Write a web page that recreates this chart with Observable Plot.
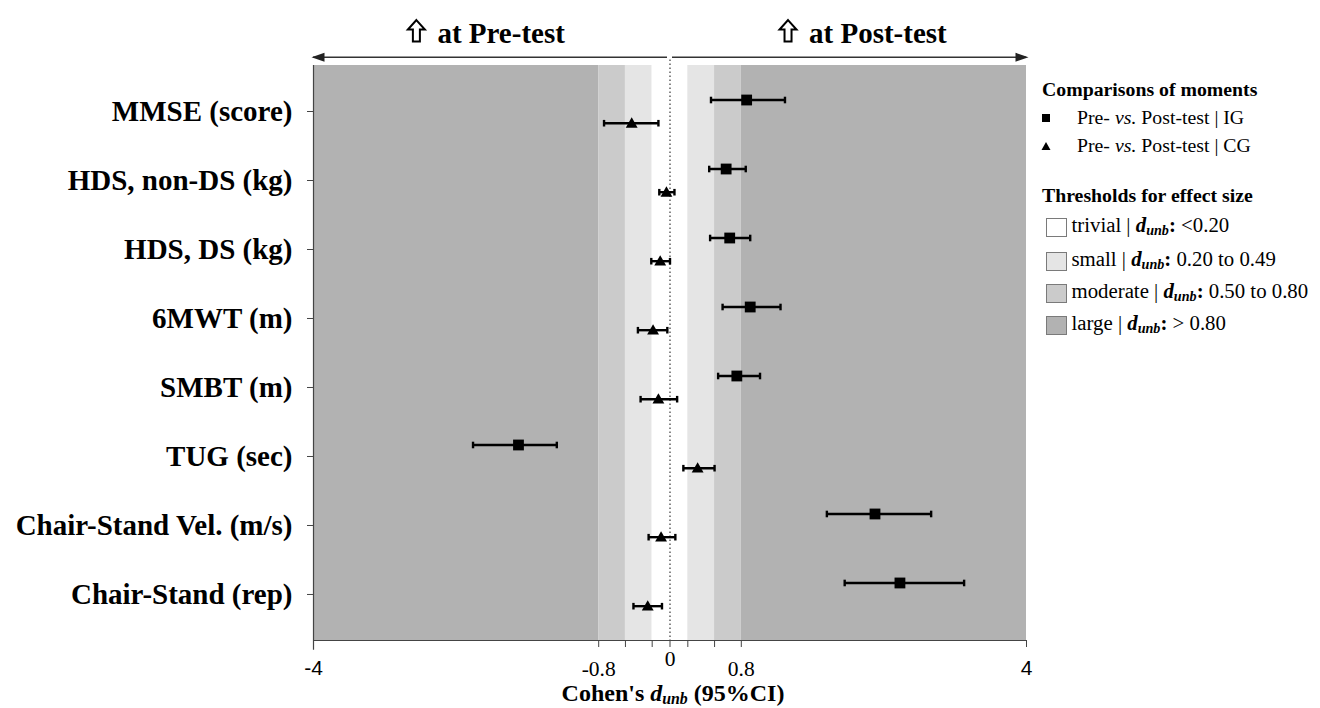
<!DOCTYPE html>
<html><head><meta charset="utf-8">
<script src="https://cdn.jsdelivr.net/npm/d3@7"></script>
<script src="https://cdn.jsdelivr.net/npm/@observablehq/plot@0.6"></script>
<style>
body{margin:0;background:#fff;}
#wrap{position:relative;width:1320px;height:708px;overflow:hidden;font-family:"Liberation Serif","Times New Roman",serif;color:#000;}
#chart svg{display:block;}
#xtitle{position:absolute;left:0;width:1346px;text-align:center;top:681px;font-weight:bold;font-size:24px;line-height:24px;white-space:nowrap;color:#000;}
#xtitle sub{font-size:0.66em;line-height:0;vertical-align:-0.22em;}
.lg{position:absolute;white-space:nowrap;font-size:19.8px;line-height:20px;color:#000;}
.lg.t{font-size:20.8px;}
.lg sub{font-size:0.68em;line-height:0;vertical-align:-0.2em;}
.box{position:absolute;width:19px;height:17px;border:1.3px solid #7a7a7a;}
</style></head>
<body>
<div id="wrap"><div id="chart"></div><div id="xtitle">Cohen's <i>d<sub>unb</sub></i> (95%CI)</div></div>
<script>
// ---- data ----
const categories = ["MMSE (score)","HDS, non-DS (kg)","HDS, DS (kg)","6MWT (m)","SMBT (m)","TUG (sec)","Chair-Stand Vel. (m/s)","Chair-Stand (rep)"];
const igD  = [0.86, 0.63, 0.67, 0.90, 0.75, -1.70, 2.30, 2.58];
const igLo = [0.46, 0.44, 0.45, 0.59, 0.54, -2.21, 1.76, 1.96];
const igHi = [1.29, 0.85, 0.90, 1.24, 1.01, -1.27, 2.93, 3.30];
const cgD  = [-0.43, -0.04, -0.11, -0.19, -0.13, 0.31, -0.10, -0.25];
const cgLo = [-0.74, -0.12, -0.21, -0.36, -0.33, 0.15, -0.24, -0.41];
const cgHi = [-0.13, 0.05, 0.00, -0.03, 0.08, 0.50, 0.06, -0.09];
const seriesNames = ["IG", "CG"];
const headerLabels = ["at Pre-test", "at Post-test"];
const xTicks = [-4, -0.8, -0.5, -0.2, 0, 0.2, 0.5, 0.8, 4];
const xSansLabels = [-4, 4];
const xSerifLabels = [-0.8, 0.8];
const xZeroLabel = [0];
const thresholdEdges = [-4, -0.8, -0.5, -0.2, 0.2, 0.5, 0.8, 4];
const thresholdLevels = ["large","moderate","small","trivial","small","moderate","large"];
const legendLevels = ["trivial","small","moderate","large"];
const legendRanges = ["<0.20","0.20 to 0.49","0.50 to 0.80","> 0.80"];

// ---- styling ----
const levelColor = {trivial:"#ffffff", small:"#e5e5e5", moderate:"#cbcbcb", large:"#b2b2b2"};
const serif = "Liberation Serif, Times New Roman, serif";
const sans = "Liberation Sans, Arial, sans-serif";

const ig = categories.map((c,i)=>({i, d: igD[i], lo: igLo[i], hi: igHi[i]}));
const cg = categories.map((c,i)=>({i, d: cgD[i], lo: cgLo[i], hi: cgHi[i]}));
const bands = thresholdLevels.map((lv,k)=>({x1: thresholdEdges[k], x2: thresholdEdges[k+1], level: lv}));

const pad = 0.667, headerRows = 0.942;
const yTopBand = -pad, yBottom = categories.length - 1 + pad;
const lineY = yTopBand - 0.12, headY = yTopBand - 0.455;

const cap = {draw(ctx, size){const r=Math.sqrt(size/Math.PI); ctx.moveTo(0,-r); ctx.lineTo(0,r);}};
const upArrow = {draw(ctx, size){const s=Math.sqrt(size/Math.PI)/11;
  const p=[[0,-11],[8.5,-1.5],[3.5,-1.5],[3.5,10.5],[-3.5,10.5],[-3.5,-1.5],[-8.5,-1.5]];
  ctx.moveTo(p[0][0]*s,p[0][1]*s); for(const q of p.slice(1)) ctx.lineTo(q[0]*s,q[1]*s); ctx.closePath();}};
const headL = {draw(ctx){ctx.moveTo(-2,0); ctx.lineTo(11,-4.5); ctx.lineTo(11,4.5); ctx.closePath();}};
const headR = {draw(ctx){ctx.moveTo(2,0); ctx.lineTo(-11,-4.5); ctx.lineTo(-11,4.5); ctx.closePath();}};

const dyIG = -11.5, dyCG = 11.7;

const chart = Plot.plot({
  width: 1320, height: 708,
  marginLeft: 313, marginRight: 294, marginTop: 0, marginBottom: 68,
  x: {domain: [-4, 4]},
  y: {domain: [yTopBand - headerRows, yBottom], reverse: true},
  color: {type: "identity"},
  style: {fontFamily: serif, background: "#fff", color: "#000"},
  marks: [
    Plot.rect(bands, {x1: "x1", x2: "x2", y1: yTopBand, y2: yBottom, fill: d => levelColor[d.level]}),
    Plot.ruleX([0], {y1: yTopBand - 0.08, y2: yBottom, stroke: "#555", strokeWidth: 1.4, strokeDasharray: "1.5,2.5"}),
    Plot.ruleX([-4], {y1: yTopBand, y2: yBottom + 0.14, stroke: "#444", strokeWidth: 1.2}),
    Plot.ruleY([yBottom], {x1: -4, x2: 4, stroke: "#444", strokeWidth: 1.2}),
    Plot.axisX(xTicks, {tickSize: 7, fill: "none", stroke: "#444", label: null}),
    Plot.text(xSansLabels, {x: d => d, text: d => String(d), frameAnchor: "bottom", lineAnchor: "top", dy: 20, fontFamily: sans, fontSize: 21, fill: "#000"}),
    Plot.text(xSerifLabels, {x: d => d, text: d => String(d), frameAnchor: "bottom", lineAnchor: "top", dy: 20, fontFamily: serif, fontSize: 21.5, fill: "#000"}),
    Plot.text(xZeroLabel, {x: d => d, text: d => String(d), frameAnchor: "bottom", lineAnchor: "top", dy: 10, fontFamily: serif, fontSize: 21.5, fill: "#000"}),
    Plot.axisY(d3.range(categories.length), {tickFormat: i => categories[i], tickSize: 6, tickPadding: 15, fontSize: 29, fontWeight: "bold", fontFamily: serif, stroke: "#444", label: null}),
    // error bars
    Plot.ruleY(ig, {y: "i", x1: "lo", x2: "hi", dy: dyIG, stroke: "#000", strokeWidth: 2.4}),
    Plot.dot(ig, {x: "lo", y: "i", dy: dyIG, symbol: cap, r: 3.3, stroke: "#000", fill: "none", strokeWidth: 2.4}),
    Plot.dot(ig, {x: "hi", y: "i", dy: dyIG, symbol: cap, r: 3.3, stroke: "#000", fill: "none", strokeWidth: 2.4}),
    Plot.ruleY(cg, {y: "i", x1: "lo", x2: "hi", dy: dyCG, stroke: "#000", strokeWidth: 2.4}),
    Plot.dot(cg, {x: "lo", y: "i", dy: dyCG, symbol: cap, r: 3.3, stroke: "#000", fill: "none", strokeWidth: 2.4}),
    Plot.dot(cg, {x: "hi", y: "i", dy: dyCG, symbol: cap, r: 3.3, stroke: "#000", fill: "none", strokeWidth: 2.4}),
    Plot.dot(ig, {x: "d", y: "i", dy: dyIG, symbol: "square", r: 6.1, fill: "#000"}),
    Plot.dot(cg, {x: "d", y: "i", dy: dyCG + 1, symbol: "triangle", r: 4.4, fill: "#000"}),
    // header arrows
    Plot.ruleY([lineY], {x1: -4, x2: 0, insetRight: 2.5, stroke: "#333", strokeWidth: 1.6}),
    Plot.ruleY([lineY], {x1: 0, x2: 4, insetLeft: 2.5, stroke: "#333", strokeWidth: 1.6}),
    Plot.dot([-4], {x: d => d, y: lineY, symbol: headL, r: 5, fill: "#222"}),
    Plot.dot([4], {x: d => d, y: lineY, symbol: headR, r: 5, fill: "#222"}),
    Plot.dot(headerLabels, {x: (d,i) => [-2.61, 1.56][i], y: headY, dx: -21, dy: -3, symbol: upArrow, r: 11, fill: "#fff", stroke: "#000", strokeWidth: 2}),
    Plot.text(headerLabels, {x: (d,i) => [-2.61, 1.56][i], y: headY, text: d => d, textAnchor: "start", fontSize: 29, fontWeight: "bold", fontFamily: serif, fill: "#000"})
  ]
});
document.getElementById("chart").appendChild(chart);

// ---- legend (HTML beside the plot) ----
const wrap = document.getElementById("wrap");
function add(html, left, baseline, cls="lg"){
  const el = document.createElement("div"); el.className = cls; el.innerHTML = html;
  el.style.left = left + "px"; el.style.top = (baseline - 16) + "px"; wrap.appendChild(el); return el;
}
add('<b>Comparisons of moments</b>', 1042, 95);
const symSvg = [
  '<svg width="10" height="10" viewBox="0 0 10 10"><rect x="1" y="1" width="8" height="8" fill="#000"/></svg>',
  '<svg width="10" height="10" viewBox="0 0 10 10"><path d="M5 1L9.5 9H0.5Z" fill="#000"/></svg>'
];
const baseS = [122.7, 151];
seriesNames.forEach((s,k)=>{
  add(symSvg[k], 1041, baseS[k] - 1);
  add('Pre- <i>vs.</i> Post-test | ' + s, 1077, baseS[k]);
});
add('<b>Thresholds for effect size</b>', 1042, 201);
const baseT = [230.7, 265, 296.7, 329];
legendLevels.forEach((lv,k)=>{
  const b = document.createElement("div"); b.className = "box";
  b.style.left = "1046px"; b.style.top = (baseT[k] - 13) + "px"; b.style.background = levelColor[lv];
  wrap.appendChild(b);
  add(lv + ' | <b><i>d<sub>unb</sub></i>:</b> ' + legendRanges[k].replace("<","&lt;").replace(">","&gt;"), 1071.5, baseT[k], "lg t");
});
</script>
</body></html>
